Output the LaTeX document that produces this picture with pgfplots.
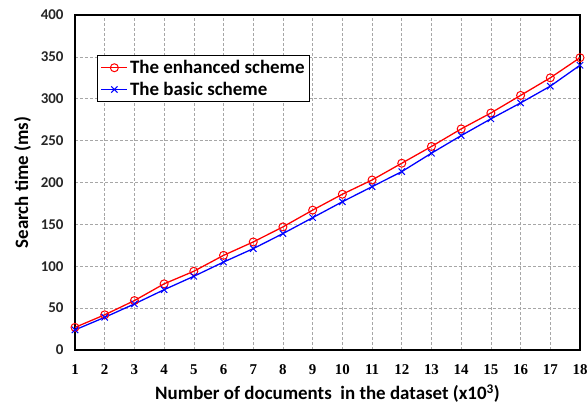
\documentclass[border=0pt]{standalone}
\usepackage{pgfplots}
\pgfplotsset{compat=1.18}
\usepackage{fontspec}
\setmainfont{Carlito}
\newfontfamily\tnr{Liberation Serif}
\begin{document}
\begin{tikzpicture}
\begin{axis}[
  scale only axis,
  width=505bp, height=335bp,
  xmin=1, xmax=18, ymin=0, ymax=400,
  xtick={1,...,18}, ytick={0,50,...,400},
  grid=major,
  major grid style={densely dashed, gray!70, line width=0.6pt},
  major tick length=0pt,
  axis line style={black, line width=1.6pt},
  tick label style={font=\fontsize{15}{15}\selectfont\bfseries},
  xticklabel style={font=\tnr\fontsize{15}{15}\selectfont\bfseries, yshift=-11bp},
  yticklabel style={xshift=-8bp, text=black!85},
  /pgf/number format/assume math mode=true,
  xlabel={\fontsize{19}{19}\selectfont\bfseries Number of documents\ \ in the dataset (x10\textsuperscript{3})},
  ylabel={\fontsize{19}{19}\selectfont\bfseries Search time (ms)},
  xlabel style={yshift=-3bp},
  ylabel style={yshift=3bp},
  legend style={at={(0.044,0.881)}, anchor=north west, draw=black, line width=1pt,
    font=\fontsize{19}{20}\selectfont\bfseries, row sep=3bp, inner sep=3bp},
  legend image code/.code={\draw[mark repeat=2,mark phase=2,line width=1.3pt,#1] plot coordinates {(0bp,0bp) (13bp,0bp) (26bp,0bp)};},
  legend cell align=left,
]
\addplot[red, line width=1.3pt, mark=o, mark size=4bp, mark options={line width=1pt}] coordinates {
(1,27) (2,42) (3,59) (4,79) (5,94) (6,113) (7,129) (8,147) (9,167) (10,186) (11,203) (12,223) (13,243) (14,264) (15,283) (16,304) (17,325) (18,349)};
\addlegendentry{The enhanced scheme}
\addplot[blue, line width=1.3pt, mark=x, mark size=4.5bp, mark options={line width=1pt}] coordinates {
(1,24) (2,39) (3,55) (4,72) (5,88) (6,105) (7,121) (8,139) (9,158) (10,177) (11,195) (12,213) (13,235) (14,256) (15,276) (16,295) (17,315) (18,340)};
\addlegendentry{The basic scheme}
\end{axis}
\pgfresetboundingbox
\path[use as bounding box] ([shift={(-75bp,-55bp)}]current axis.south west) rectangle ([shift={(7bp,15bp)}]current axis.north east);
\end{tikzpicture}
\end{document}
